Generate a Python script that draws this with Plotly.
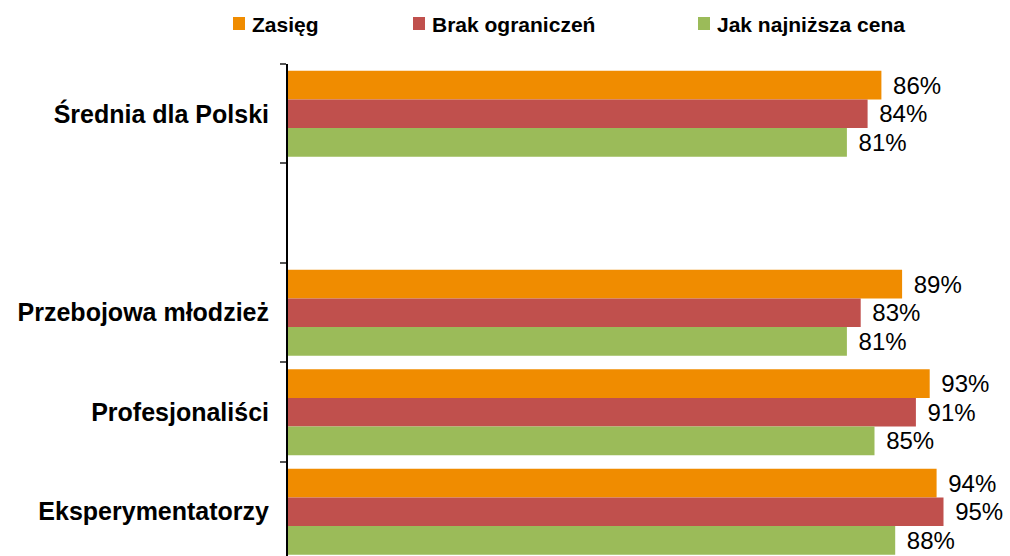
import plotly.graph_objects as go

categories = ["Średnia dla Polski", " ", "Przebojowa młodzież", "Profesjonaliści", "Eksperymentatorzy"]
series_names = ["Zasięg", "Brak ograniczeń", "Jak najniższa cena"]
zasieg = [86, None, 89, 93, 94]
brak = [84, None, 83, 91, 95]
cena = [81, None, 81, 85, 88]
colors = ["#F08C00", "#C0504D", "#9BBB59"]

FONT = "Liberation Sans, Arial, sans-serif"
NB = "\u00a0"

W, H = 1010, 556
ML, MR, MT, MB = 288, 32, 64, 0
PW, PH = W - ML - MR, H - MT - MB


def px_x(px):
    return (px - ML) / PW


def px_y(py):
    return (H - MB - py) / PH


fig = go.Figure()
for name, vals, col in zip(series_names, [zasieg, brak, cena], colors):
    fig.add_trace(go.Bar(
        y=categories,
        x=vals,
        name=name,
        orientation="h",
        marker=dict(color=col, line=dict(width=0)),
        text=[("" if v is None else NB + "\u200a" + f"{v}%") for v in vals],
        textposition="outside",
        textfont=dict(family=FONT, size=24, color="black"),
        constraintext="none",
        cliponaxis=False,
        hoverinfo="skip",
        showlegend=False,
    ))

# manual legend
legend_x = [233, 413, 698]
for name, col, lx in zip(series_names, colors, legend_x):
    fig.add_shape(type="rect", xref="paper", yref="paper",
                  x0=px_x(lx), x1=px_x(lx + 12), y0=px_y(30), y1=px_y(17),
                  fillcolor=col, line=dict(width=0))
    fig.add_annotation(xref="paper", yref="paper", x=px_x(lx + 17), y=px_y(24),
                       xanchor="left", yanchor="middle", showarrow=False,
                       text="<b>" + name + "</b>",
                       font=dict(family=FONT, size=21, color="black"))

fig.update_layout(
    width=W, height=H,
    margin=dict(l=ML, r=MR, t=MT, b=MB, autoexpand=False),
    paper_bgcolor="white", plot_bgcolor="white",
    barmode="group", bargap=0.135, bargroupgap=0,
    showlegend=False,
    xaxis=dict(range=[0, 100], visible=False, showgrid=False, zeroline=False, automargin=False),
    yaxis=dict(
        type="category", categoryorder="array", categoryarray=categories,
        range=[4.445, -0.5], automargin=False,
        showline=True, linecolor="black", linewidth=2,
        ticks="outside", tickson="boundaries", ticklen=6, tickcolor="#555555", tickwidth=2,
        showgrid=False, zeroline=False,
        ticklabelstandoff=12,
        tickfont=dict(family=FONT, size=25, color="black", weight="bold"),
    ),
)

fig.write_html("out.html", config={"displayModeBar": False},
               post_script="document.body.style.margin='0';document.body.style.overflow='hidden';")
